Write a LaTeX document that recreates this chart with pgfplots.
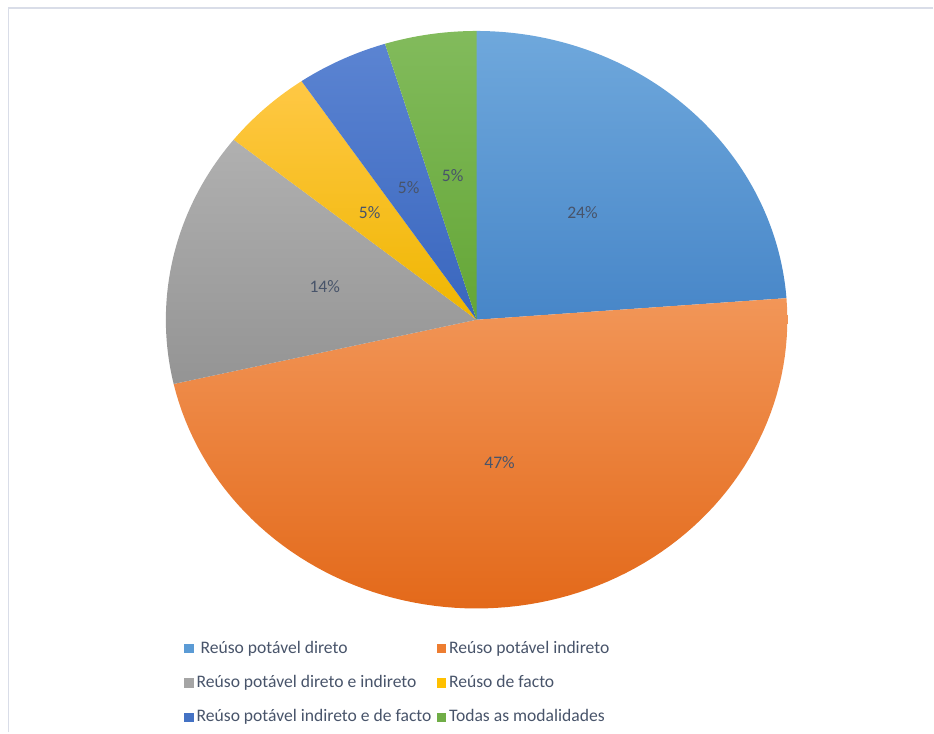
\documentclass[border=0pt]{standalone}
\usepackage{pgfplots}
\pgfplotsset{compat=1.18}
\usepackage{pgfplotstable}
\usepackage{fontspec}
\setmainfont{Carlito}
\definecolor{txt}{HTML}{48546A}
\definecolor{frame}{HTML}{D9DDE8}
\definecolor{top0}{HTML}{6FA8DC}\definecolor{bot0}{HTML}{4786C8}\definecolor{mid0}{HTML}{5B9BD5}
\definecolor{top1}{HTML}{F29658}\definecolor{bot1}{HTML}{E3691A}\definecolor{mid1}{HTML}{ED7D31}
\definecolor{top2}{HTML}{B0B0B0}\definecolor{bot2}{HTML}{949494}\definecolor{mid2}{HTML}{A5A5A5}
\definecolor{top3}{HTML}{FFC845}\definecolor{bot3}{HTML}{EFB600}\definecolor{mid3}{HTML}{FFC000}
\definecolor{top4}{HTML}{5B84D2}\definecolor{bot4}{HTML}{3966BE}\definecolor{mid4}{HTML}{4472C4}
\definecolor{top5}{HTML}{82BB5C}\definecolor{bot5}{HTML}{64A636}\definecolor{mid5}{HTML}{70AD47}

% value = share of the pie, pct = printed label, lx/ly = label position (px from top-left)
\pgfplotstableread{
idx value pct lx ly
0 5  24 583 213
1 10 47 500 463
2 3  14 325 287
3 1  5  370 213
4 1  5  409 188
5 1  5  453 176
}\piedata

\begin{document}
\begin{tikzpicture}[font=\fontsize{8.2}{10}\selectfont]
\begin{axis}[
  scale only axis, width=467pt, height=366.5pt,
  xmin=0, xmax=934, ymin=0, ymax=733,
  hide axis, clip=false,
  legend columns=2,
  legend cell align=left,
  legend image code/.code={\fill[#1] (0pt,-2.1pt) rectangle (4.2pt,2.1pt);},
  legend style={at={(axis cs:184,96)}, anchor=north west, draw=none, fill=none,
    inner sep=0pt, row sep=5.6pt, font=\fontsize{8.8}{10}\selectfont\color{txt},
    nodes={inner xsep=1.6pt},
    /tikz/every even column/.append style={column sep=1pt}},
]
\path (axis cs:0,0) rectangle (axis cs:934,733);
\draw[frame, line width=0.8pt] (axis cs:8.5,0) -- (axis cs:8.5,725) -- (axis cs:934,725);
\def\cum{0}
\def\total{21}
\pgfplotsforeachungrouped \i in {0,...,5}{%
  \pgfplotstablegetelem{\i}{value}\of\piedata \let\v=\pgfplotsretval
  \pgfmathsetmacro\a{90-360*\cum/\total}%
  \pgfmathsetmacro\b{90-360*(\cum+\v)/\total}%
  \edef\temp{\noexpand\addplot[forget plot, draw=none, top color=top\i, bottom color=bot\i,
     domain=\b:\a, samples=90, variable=\noexpand\t]
     ({477+311*cos(\noexpand\t)},{413+289*sin(\noexpand\t)}) -- (axis cs:477,413) -- cycle;}%
  \temp
  \pgfmathsetmacro\cum{\cum+\v}%
  \global\let\cum\cum
}
\pgfplotsforeachungrouped \i in {0,...,5}{%
  \pgfplotstablegetelem{\i}{pct}\of\piedata \let\p=\pgfplotsretval
  \pgfplotstablegetelem{\i}{lx}\of\piedata \let\lx=\pgfplotsretval
  \pgfplotstablegetelem{\i}{ly}\of\piedata \let\ly=\pgfplotsretval
  \edef\temp{\noexpand\node[txt, font=\noexpand\fontsize{8.8}{10}\noexpand\selectfont] at (axis cs:\lx,733-\ly) {\p\noexpand\%};}%
  \temp
}
\addlegendimage{mid0}\addlegendentry{\ Reúso potável direto}
\addlegendimage{mid1}\addlegendentry{Reúso potável indireto}
\addlegendimage{mid2}\addlegendentry{Reúso potável direto e indireto}
\addlegendimage{mid3}\addlegendentry{Reúso de facto}
\addlegendimage{mid4}\addlegendentry{Reúso potável indireto e de facto}
\addlegendimage{mid5}\addlegendentry{Todas as modalidades}
\end{axis}
\end{tikzpicture}
\end{document}
